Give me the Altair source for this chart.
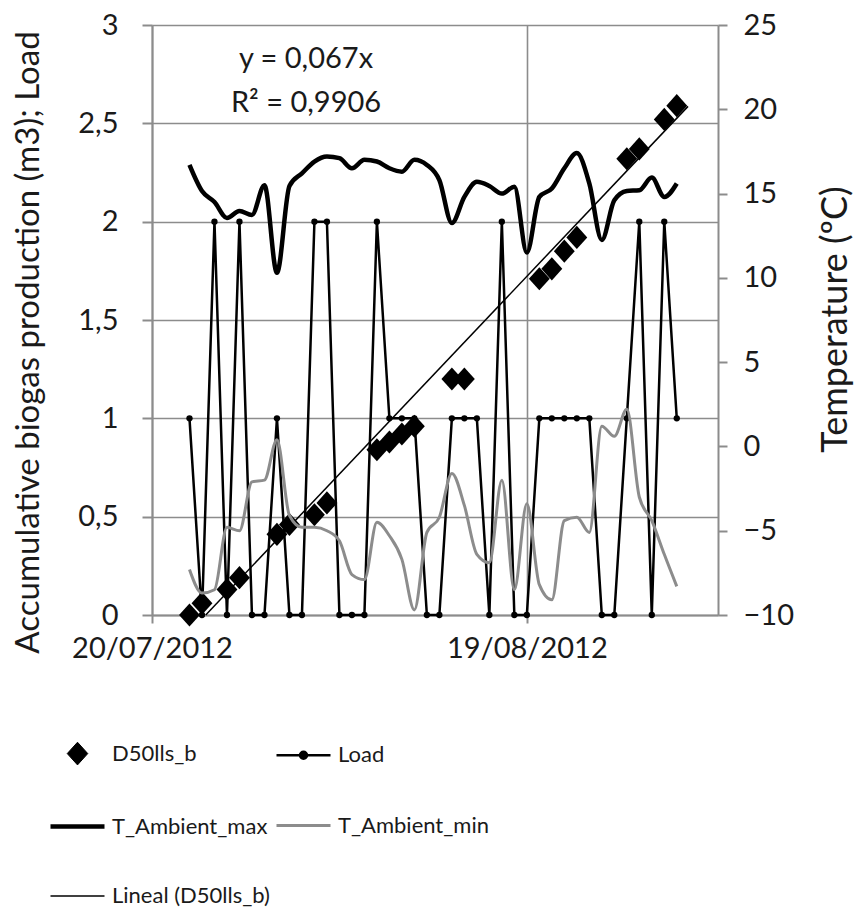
import altair as alt
import pandas as pd

# ---------------- data ----------------
start = pd.Timestamp("2012-07-20")
dates = pd.date_range("2012-07-23", "2012-08-31", freq="D")
days = [(d - start).days for d in dates]

load = [1, 0, 2, 0, 2, 0, 0, 1, 0, 0, 2, 2, 0, 0, 0, 2, 1, 1, 1, 0,
        0, 1, 1, 1, 0, 2, 0, 0, 1, 1, 1, 1, 1, 0, 0, 1, 2, 0, 2, 1]

d50 = [0.0, 0.06, None, 0.13, 0.19, None, None, 0.41, 0.46, None,
       0.51, 0.57, None, None, None, 0.84, 0.88, 0.92, 0.96, None,
       None, 1.20, 1.20, None, None, None, None, None, 1.71, 1.76,
       1.85, 1.92, None, None, None, 2.32, 2.37, None, 2.52, 2.59]

t_max = [16.7, 15.15, 14.5, 13.55, 13.97, 13.73, 15.5, 10.3, 15.45, 16.2,
         16.9, 17.2, 17.1, 16.5, 17.0, 16.9, 16.5, 16.3, 17.0, 16.7,
         15.8, 13.25, 14.8, 15.7, 15.45, 15.0, 15.4, 11.5, 14.8, 15.3,
         16.5, 17.4, 15.6, 12.25, 14.6, 15.15, 15.2, 15.95, 14.8, 15.6]

t_min = [-7.3, -8.7, -8.5, -4.8, -5.0, -2.1, -2.0, 0.4, -4.1, -4.8,
         -4.8, -5.0, -5.6, -7.6, -7.9, -4.5, -5.3, -6.7, -9.7, -5.1,
         -4.2, -1.6, -3.5, -6.4, -6.9, -2.0, -8.5, -3.4, -8.2, -9.1,
         -4.4, -4.2, -5.1, 1.2, 0.6, 2.2, -3.0, -4.4, -6.4, -8.3]

# linear trend (through origin) of D50lls_b
trend_slope = 0.067
trend_r2 = 0.9906
trend_origin_day = 4.3
trend_end_day = 42.9

x_tick_labels = ["20/07/2012", "19/08/2012"]
left_ticks = [0, 0.5, 1, 1.5, 2, 2.5, 3]
right_ticks = [-10, -5, 0, 5, 10, 15, 20, 25]

S_D50, S_LOAD = "D50lls_b", "Load"
S_TMAX, S_TMIN, S_LIN = "T_Ambient_max", "T_Ambient_min", "Lineal (D50lls_b)"
# legend order (filled column by column, 3 rows): D50, T_max, Lineal | Load, T_min
series_order = [S_D50, S_TMAX, S_LIN, S_LOAD, S_TMIN]

left_title = "Accumulative biogas production (m3); Load"
right_title = "Temperature (ºC)"

# ---------------- tables ----------------
x_tick_days = [(pd.to_datetime(s, dayfirst=True) - start).days for s in x_tick_labels]
label_expr = " : ".join(
    f"datum.value == {d} ? '{s}'" for d, s in zip(x_tick_days, x_tick_labels)
) + " : ''"

d50_df = pd.DataFrame({"day": days, "value": d50, "series": S_D50}).dropna()
load_df = pd.DataFrame({"day": days, "value": load, "series": S_LOAD})
tmax_df = pd.DataFrame({"day": days, "temp": t_max, "series": S_TMAX})
tmin_df = pd.DataFrame({"day": days, "temp": t_min, "series": S_TMIN})
trend_days = [trend_origin_day, trend_end_day]
trend_df = pd.DataFrame({
    "day": trend_days,
    "value": [trend_slope * (d - trend_origin_day) for d in trend_days],
    "series": S_LIN,
})
eq_text = [f"y = {trend_slope:.3f}x".replace(".", ","),
           f"R\u00b2 = {trend_r2:.4f}".replace(".", ",")]

FONT = "Lato"
GRAY = "#8c8c8c"
TXT = "#1a1a1a"

diamond_path = "M-0.38,0L0,-0.42L0.38,0L0,0.42Z"
line_path = "M-1,0L1,0"
load_path = ("M-1,0L1,0"
             "M-0.13,0A0.13,0.13,0,1,1,0.13,0A0.13,0.13,0,1,1,-0.13,0Z")

style = {
    S_D50: ("black", 1, diamond_path),
    S_TMAX: ("black", 4.5, line_path),
    S_LIN: ("black", 1.5, line_path),
    S_LOAD: ("black", 2.5, load_path),
    S_TMIN: (GRAY, 3, line_path),
}

legend = alt.Legend(orient="none", legendX=-104, legendY=701, columns=2,
                    direction="vertical", title=None, symbolSize=2916,
                    symbolFillColor="black", labelFont=FONT,
                    labelFontSize=22, labelColor=TXT, labelOffset=5,
                    columnPadding=0, rowPadding=30, padding=0,
                    labelLimit=400)

color_enc = alt.Color("series:N",
                      scale=alt.Scale(domain=series_order,
                                      range=[style[s][0] for s in series_order]),
                      legend=legend)
sw_enc = alt.StrokeWidth("series:N",
                         scale=alt.Scale(type="ordinal", domain=series_order,
                                         range=[style[s][1] for s in series_order]),
                         legend=legend)
shape_enc = alt.Shape("series:N",
                      scale=alt.Scale(domain=series_order,
                                      range=[style[s][2] for s in series_order]),
                      legend=legend)

x_enc = alt.X(
    "day:Q",
    scale=alt.Scale(domain=[0, 45.3], nice=False, zero=False),
    axis=alt.Axis(values=x_tick_days, labelExpr=label_expr, title=None,
                  grid=True, tickSize=8, labelPadding=11, labelFontSize=29,
                  labelOverlap=False, labelFlush=False),
)

y_left = alt.Y(
    "value:Q",
    scale=alt.Scale(domain=[0, 3], nice=False, zero=False),
    axis=alt.Axis(values=left_ticks,
                  labelExpr="replace(toString(datum.value), '.', ',')",
                  title=left_title, tickSize=10, labelPadding=24,
                  labelFontSize=29, titleFontSize=33,
                  titleX=-124, titleY=317, titleAngle=270,
                  titleAlign="center", titleBaseline="middle"),
)

y_right = alt.Y(
    "temp:Q",
    scale=alt.Scale(domain=[-10, 25], nice=False, zero=False),
    axis=alt.Axis(orient="right", values=right_ticks, grid=False,
                  title=right_title, tickSize=9, labelPadding=16,
                  labelFontSize=29, titleFontSize=36,
                  titleX=117, titleY=294, titleAngle=270,
                  titleAlign="center", titleBaseline="middle"),
)

d50_layer = alt.Chart(d50_df).mark_point(
    filled=True, color="black", size=3025, opacity=1
).encode(x=x_enc, y=y_left, shape=shape_enc)

load_line = alt.Chart(load_df).mark_line().encode(
    x=x_enc, y=y_left, color=color_enc, strokeWidth=sw_enc)
load_pts = alt.Chart(load_df).mark_circle(color="black", size=40, opacity=1).encode(
    x=x_enc, y=y_left)

trend_layer = alt.Chart(trend_df).mark_line().encode(
    x=x_enc, y=y_left, color=color_enc, strokeWidth=sw_enc)

eq_layer = alt.Chart(pd.DataFrame({"t": [eq_text]})).mark_text(
    font=FONT, fontSize=29, color=TXT, lineHeight=44, baseline="top",
    align="center"
).encode(x=alt.value(154), y=alt.value(20), text="t")

left = alt.layer(d50_layer, load_line, load_pts, trend_layer, eq_layer)

tmax_layer = alt.Chart(tmax_df).mark_line(interpolate="monotone").encode(
    x=x_enc, y=y_right, color=color_enc, strokeWidth=sw_enc)
tmin_layer = alt.Chart(tmin_df).mark_line(interpolate="monotone").encode(
    x=x_enc, y=y_right, color=color_enc, strokeWidth=sw_enc)
right = alt.layer(tmax_layer, tmin_layer)

chart = alt.layer(left, right).resolve_scale(y="independent").properties(
    width=566, height=590,
    autosize=alt.AutoSizeParams(type="none"),
    padding={"left": 152, "top": 25, "right": 143, "bottom": 301},
    background="white",
).configure_view(stroke=None).configure_axis(
    labelFont=FONT, titleFont=FONT, labelColor=TXT, titleColor=TXT,
    titleFontWeight="normal", domainColor=GRAY, domainWidth=2,
    tickColor=GRAY, tickWidth=2, gridColor=GRAY, gridWidth=1.6,
)

chart.save("out.html", embed_options={"renderer": "svg", "actions": False})
